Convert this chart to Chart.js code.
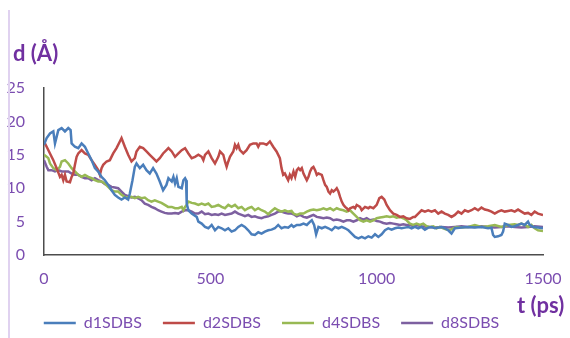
<!DOCTYPE html>
<html><head><meta charset="utf-8">
<script src="https://cdn.jsdelivr.net/npm/chart.js@4/dist/chart.umd.min.js"></script>
<style>
html,body{margin:0;padding:0;background:#fff;width:570px;height:338px;overflow:hidden;}
#wrap{position:relative;width:570px;height:338px;}
#border{position:absolute;left:8px;top:10px;width:2px;height:328px;background:#e0d2f0;}
.ttl{position:absolute;font-family:Lato,"Open Sans",sans-serif;font-weight:bold;font-size:22px;line-height:22px;color:#7030A0;white-space:nowrap;}
</style></head>
<body>
<div id="wrap">
<canvas id="c" width="570" height="338"></canvas>
<div id="border"></div>
<div class="ttl" style="left:13px;top:42px;">d (Å)</div>
<div class="ttl" style="left:517px;top:294px;">t (ps)</div>
</div>
<script>
// Series values: [time (ps), distance (Å)]
const d1SDBS = [[0,16.5],[8,17.5],[18,18.2],[28,18.5],[33,16.7],[43,18.7],[53,19.0],[63,18.5],[73,19.0],[80,18.7],[83,16.7],[93,16.2],[103,16.0],[113,16.7],[123,16.2],[133,15.2],[143,14.2],[153,13.0],[163,12.5],[173,11.7],[183,11.2],[193,10.5],[203,9.7],[213,9.0],[223,8.6],[233,8.3],[243,8.6],[253,8.3],[258,9.2],[266,11.2],[273,13.2],[278,13.7],[288,13.0],[298,13.5],[308,12.7],[318,12.2],[328,13.0],[338,12.2],[348,11.0],[358,9.7],[368,10.5],[374,11.5],[384,11.0],[389,11.7],[394,10.7],[399,11.5],[404,10.2],[414,10.0],[419,11.2],[424,11.5],[427,11.2],[429,7.7],[434,6.7],[444,6.2],[459,5.7],[464,5.0],[474,4.7],[484,4.2],[494,4.0],[504,4.5],[514,3.7],[524,4.2],[534,4.0],[544,3.7],[554,4.0],[564,3.5],[574,3.7],[584,4.2],[594,4.5],[604,4.2],[614,3.7],[624,3.1],[634,3.0],[644,3.4],[654,3.2],[664,3.5],[674,3.7],[684,3.8],[694,4.0],[704,4.5],[714,4.0],[724,4.2],[734,4.1],[744,4.5],[750,4.2],[760,4.5],[770,4.5],[780,4.7],[790,4.5],[800,5.0],[805,5.2],[812,4.5],[818,3.1],[825,4.2],[835,4.0],[845,4.2],[855,4.0],[865,3.7],[875,4.2],[885,4.0],[895,4.2],[905,4.0],[915,3.7],[925,3.2],[935,2.7],[945,2.5],[955,2.7],[965,2.5],[975,2.8],[985,2.6],[995,3.1],[1005,2.7],[1015,3.1],[1025,3.7],[1035,4.0],[1045,3.8],[1055,4.0],[1065,4.1],[1075,4.0],[1085,4.1],[1095,4.2],[1105,4.0],[1115,4.2],[1125,4.0],[1135,4.2],[1145,3.8],[1155,4.1],[1165,4.2],[1175,4.0],[1195,4.2],[1205,4.0],[1215,3.7],[1225,3.2],[1235,4.0],[1255,4.1],[1275,4.2],[1295,4.1],[1315,4.2],[1335,4.0],[1345,4.1],[1350,3.0],[1355,2.7],[1365,2.8],[1375,3.0],[1380,3.5],[1385,4.7],[1395,4.5],[1405,4.2],[1415,4.3],[1425,4.5],[1435,4.7],[1445,4.5],[1455,5.0],[1460,4.5],[1470,4.2],[1485,4.1],[1500,4.0]];

const d2SDBS = [[0,17.0],[8,16.2],[18,15.2],[28,14.2],[38,13.0],[48,11.7],[53,12.0],[58,11.2],[63,12.0],[68,11.0],[78,10.9],[83,11.7],[88,12.2],[93,13.5],[98,14.7],[103,15.2],[113,15.7],[123,15.2],[133,15.0],[143,14.2],[153,13.5],[163,12.7],[168,12.0],[173,13.0],[178,13.5],[188,14.0],[198,14.2],[208,15.2],[218,16.0],[228,17.0],[233,17.5],[243,16.2],[253,15.0],[263,14.0],[273,14.5],[278,15.5],[288,16.2],[298,16.0],[308,15.5],[318,15.0],[328,14.5],[338,14.0],[348,14.5],[358,15.2],[368,15.7],[374,16.0],[384,15.5],[394,14.7],[404,15.2],[414,15.7],[424,16.0],[434,15.2],[444,14.5],[454,14.7],[464,15.0],[474,14.7],[479,14.2],[484,15.0],[494,15.5],[504,14.5],[514,13.7],[524,14.7],[529,15.5],[539,15.0],[544,14.0],[549,13.2],[554,14.0],[559,14.7],[569,15.5],[574,16.5],[579,16.0],[584,16.5],[589,15.7],[599,15.2],[609,15.7],[619,16.5],[629,16.7],[639,16.7],[644,16.2],[649,16.7],[659,16.7],[669,16.5],[679,17.0],[689,16.2],[699,15.5],[709,14.5],[714,13.0],[719,12.0],[724,12.2],[729,11.7],[734,11.2],[739,12.0],[744,11.5],[750,12.5],[755,11.7],[760,12.7],[765,13.0],[770,12.7],[775,13.0],[780,12.2],[785,11.7],[790,11.2],[795,11.7],[800,12.5],[805,13.0],[810,13.2],[815,12.7],[820,12.0],[825,12.2],[835,12.0],[840,11.2],[845,10.5],[850,10.2],[855,9.5],[860,9.2],[865,9.7],[870,9.5],[875,9.7],[880,10.0],[885,9.5],[890,8.7],[895,8.0],[900,7.5],[905,7.2],[910,7.0],[915,6.7],[920,7.0],[930,7.2],[935,7.0],[940,7.5],[950,7.2],[955,6.7],[965,7.2],[975,7.0],[980,7.2],[990,7.0],[1000,7.5],[1008,8.5],[1015,8.7],[1023,8.3],[1030,7.5],[1040,6.7],[1050,6.2],[1060,6.0],[1070,5.7],[1080,5.8],[1090,5.5],[1100,5.4],[1110,5.7],[1115,5.7],[1125,6.2],[1135,6.7],[1145,6.5],[1155,6.7],[1165,6.5],[1175,6.7],[1185,6.2],[1195,6.5],[1205,6.2],[1215,6.0],[1225,5.7],[1235,6.0],[1245,6.5],[1255,6.2],[1265,6.7],[1275,6.5],[1285,6.7],[1295,7.0],[1305,6.7],[1315,7.1],[1325,6.8],[1335,6.7],[1345,6.5],[1355,6.2],[1365,6.5],[1375,6.7],[1385,6.5],[1395,6.6],[1405,6.7],[1415,6.5],[1425,6.8],[1435,6.5],[1445,6.2],[1455,6.3],[1465,6.0],[1475,6.5],[1485,6.2],[1500,6.0]];

const d4SDBS = [[0,15.0],[8,14.7],[13,14.5],[18,13.7],[28,13.0],[38,12.7],[48,13.2],[53,14.0],[63,14.2],[73,13.7],[83,13.0],[93,12.5],[103,12.0],[113,11.7],[123,12.0],[133,11.7],[143,11.5],[153,11.2],[163,11.0],[173,11.0],[183,10.7],[193,10.2],[203,9.7],[213,9.5],[223,9.5],[233,9.0],[243,8.7],[253,8.6],[263,8.7],[273,8.5],[283,8.7],[293,8.5],[303,8.6],[313,8.2],[323,8.0],[333,8.2],[343,8.0],[353,7.8],[363,7.5],[373,7.2],[384,7.2],[394,7.0],[404,7.0],[414,7.2],[419,6.7],[424,7.2],[429,7.5],[434,8.0],[444,7.8],[454,7.7],[464,7.5],[474,7.7],[484,7.5],[494,7.7],[504,7.2],[514,7.3],[524,7.5],[534,7.2],[544,7.0],[554,7.5],[564,7.2],[574,7.5],[584,7.0],[594,7.2],[604,6.7],[614,7.0],[624,7.2],[634,6.7],[644,7.0],[654,6.7],[664,6.5],[674,6.1],[684,6.6],[694,7.0],[704,6.7],[714,6.5],[724,6.7],[734,6.5],[744,6.6],[750,6.2],[760,6.0],[770,6.2],[780,6.2],[790,6.5],[800,6.7],[810,6.8],[820,6.7],[830,6.8],[840,7.0],[850,6.8],[860,7.0],[870,6.7],[880,7.0],[890,6.8],[900,6.7],[910,6.5],[920,6.7],[930,6.2],[940,5.7],[950,5.2],[960,5.0],[970,5.2],[980,5.0],[990,5.2],[1000,5.5],[1010,5.6],[1020,5.7],[1030,5.8],[1040,5.7],[1050,5.8],[1060,5.6],[1070,5.7],[1080,5.5],[1090,5.2],[1100,4.7],[1110,4.5],[1120,4.7],[1130,4.5],[1140,4.7],[1150,4.3],[1160,4.2],[1170,4.3],[1180,4.0],[1190,4.2],[1200,4.0],[1210,3.8],[1220,3.7],[1230,4.0],[1240,4.2],[1255,4.1],[1275,4.2],[1295,4.5],[1315,4.2],[1335,4.3],[1355,4.5],[1375,4.2],[1395,4.5],[1415,4.6],[1425,4.5],[1435,4.7],[1445,4.5],[1455,4.2],[1465,4.5],[1475,4.0],[1485,3.7],[1500,3.6]];

const d8SDBS = [[0,14.2],[8,13.2],[13,12.7],[23,12.7],[33,12.5],[43,12.7],[53,12.5],[63,12.5],[73,12.5],[83,12.2],[93,12.0],[103,12.0],[113,11.7],[123,11.5],[133,11.5],[143,11.2],[153,11.5],[163,11.2],[173,11.0],[183,10.6],[193,10.5],[203,10.2],[213,10.1],[223,10.0],[233,9.5],[243,9.0],[253,8.8],[263,8.6],[273,8.7],[283,8.5],[293,8.2],[303,7.7],[313,7.5],[323,7.2],[333,7.0],[343,6.7],[353,6.5],[363,6.3],[373,6.2],[384,6.2],[394,6.3],[404,6.2],[414,6.5],[424,6.7],[434,6.7],[444,6.5],[454,6.2],[464,6.2],[474,6.5],[484,6.1],[494,6.2],[504,6.0],[514,6.1],[524,6.0],[534,6.2],[544,6.0],[554,6.1],[564,6.2],[574,6.5],[584,6.2],[594,6.0],[604,5.8],[614,6.0],[624,5.7],[634,5.8],[644,5.6],[654,5.5],[664,5.7],[674,5.8],[684,6.0],[694,6.2],[704,6.5],[714,6.5],[724,6.3],[734,6.2],[744,6.2],[750,6.1],[760,5.8],[770,6.0],[780,5.7],[790,5.6],[800,5.8],[810,6.0],[820,5.7],[830,5.6],[840,5.5],[850,5.6],[860,5.5],[870,5.2],[880,5.3],[890,5.2],[900,5.0],[910,5.2],[920,5.2],[930,5.0],[940,5.2],[950,5.5],[960,5.3],[970,5.5],[980,5.2],[990,5.3],[1000,5.1],[1010,5.0],[1020,4.8],[1030,4.7],[1040,4.8],[1050,4.7],[1060,4.6],[1070,4.5],[1080,4.6],[1090,4.5],[1100,4.5],[1110,4.3],[1120,4.5],[1135,4.3],[1155,4.2],[1175,4.1],[1195,4.2],[1215,4.1],[1235,4.2],[1255,4.3],[1275,4.2],[1295,4.2],[1315,4.3],[1335,4.2],[1355,4.1],[1375,4.2],[1395,4.3],[1415,4.2],[1435,4.1],[1455,4.2],[1475,4.3],[1500,4.2]];

const seriesNames = ['d1SDBS','d2SDBS','d4SDBS','d8SDBS'];
const xTicks = [0, 500, 1000, 1500];
const yTicks = [0, 5, 10, 15, 20, 25];

const colors = ['#4A7EBB','#BE4B48','#98B954','#7D60A0'];
const tickColor = '#7B4DB0';
const allSeries = [d1SDBS, d2SDBS, d4SDBS, d8SDBS];

const datasets = allSeries.map((s, i) => ({
  label: seriesNames[i],
  data: s.map(p => ({x: p[0], y: p[1]})),
  borderColor: colors[i],
  backgroundColor: colors[i],
  borderWidth: 2.5,
  pointRadius: 0,
  tension: 0,
  fill: false
}));

new Chart(document.getElementById('c'), {
  type: 'line',
  data: { datasets },
  options: {
    responsive: false,
    animation: false,
    events: [],
    layout: { padding: { left: 0, right: 27, top: 88, bottom: -3 } },
    plugins: {
      tooltip: { enabled: false },
      legend: {
        position: 'bottom',
        align: 'center',
        labels: {
          usePointStyle: true,
          pointStyle: 'line',
          pointStyleWidth: 32,
          boxHeight: 16,
          padding: 21,
          color: tickColor,
          font: { family: 'Lato', size: 16 }
        }
      }
    },
    scales: {
      x: {
        type: 'linear',
        min: xTicks[0], max: xTicks[xTicks.length - 1],
        afterBuildTicks: s => { s.ticks = xTicks.map(v => ({value: v})); },
        afterFit: s => { s.height = 39; s.paddingLeft = 0; s.paddingRight = 0; },
        grid: { display: false, drawTicks: false },
        border: { display: true, color: '#4d4d4d', width: 1.5 },
        ticks: { color: tickColor, font: { family: 'Lato', size: 16 }, padding: 14, maxRotation: 0, callback: v => String(v) }
      },
      y: {
        min: yTicks[0], max: yTicks[yTicks.length - 1],
        afterBuildTicks: s => { s.ticks = yTicks.map(v => ({value: v})); },
        afterFit: s => { s.width = 44; },
        grid: { display: false, drawTicks: false },
        border: { display: true, color: '#4d4d4d', width: 1.5 },
        ticks: { color: tickColor, font: { family: 'Lato', size: 16 }, padding: 19, callback: v => String(v) }
      }
    }
  }
});
</script>
</body></html>
